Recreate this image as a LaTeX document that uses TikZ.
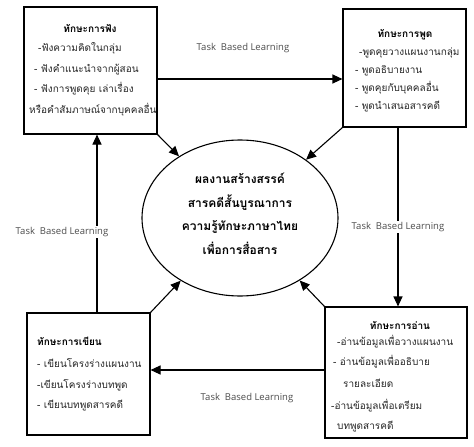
\documentclass[tikz,border=0pt]{standalone}
\usepackage{fontspec}
\newfontfamily\thai[Script=Thai]{Loma}
\newfontfamily\lat{Open Sans}
\usetikzlibrary{arrows.meta,shapes.geometric}
\begin{document}
\begin{tikzpicture}[x=1pt,y=-1pt,
 box/.style={draw, line width=1.1pt, inner sep=0pt, rectangle},
 arr/.style={line width=1.1pt, -{Triangle[length=10pt,width=9pt]}},
 th/.style={font=\thai\fontsize{10}{12}\selectfont, text=black!85, inner sep=0pt},
 thb/.style={font=\thai\bfseries\fontsize{10}{12}\selectfont, text=black, inner sep=0pt},
 tbl/.style={font=\lat\fontsize{9.5}{11}\selectfont, text=black!70, fill=white, inner sep=1.5pt}]
\useasboundingbox (0,0) rectangle (474,447);
% boxes
\node[box, minimum width=133pt, minimum height=127pt] (tl) at (90.5,70.5) {};
\node[box, minimum width=123pt, minimum height=118pt] (tr) at (404.5,68) {};
\node[box, minimum width=123pt, minimum height=122pt] (bl) at (88.5,374) {};
\node[box, minimum width=142pt, minimum height=131pt] (br) at (396,372.5) {};
\node[draw, ellipse, line width=1.1pt, minimum width=196pt, minimum height=156pt] (ell) at (240,218) {};
% connectors
\draw[arr] ([yshift=-8.5pt]tl.east) -- ([yshift=-8.5pt]tl.east -| tr.west);
\draw[arr] ([xshift=-6.5pt]tr.south) -- ([xshift=-6.5pt]tr.south |- br.north);
\draw[arr] ([yshift=2.5pt]br.west) -- ([yshift=2.5pt]br.west -| bl.east);
\draw[arr] ([xshift=8.5pt]bl.north) -- ([xshift=8.5pt]bl.north |- tl.south);
\draw[arr] (tl.south east) -- (ell);
\draw[arr] (tr.south west) -- (ell);
\draw[arr] (bl.north east) -- (ell);
\draw[arr] (br.north west) -- (ell);
% labels
\node[tbl] (lt) at (243,48) {Task\ \ Based Learning};
\node[tbl] (lr) at (398,227) {Task\ \ Based Learning};
\node[tbl] (lb) at (247,398) {Task\ \ Based Learning};
\node[tbl] (ll) at (62,232) {Task\ \ Based Learning};
% ellipse text
\node[font=\thai\bfseries\fontsize{12}{23.5}\selectfont, align=center, inner sep=0pt] (ellT) at (240,214)
 {ผลงานสร้างสรรค์\\สารคดีสั้นบูรณาการ\\ความรู้ทักษะภาษาไทย\\เพื่อการสื่อสาร};
% top-left box
\node[thb] (tlT) at (90,28) {ทักษะการฟัง};
\node[th, anchor=mid west] (tl1) at (38,49) {-ฟังความคิดในกลุ่ม};
\node[th, anchor=mid west] (tl2) at (34,70) {- ฟังคำแนะนำจากผู้สอน};
\node[th, anchor=mid west] (tl3) at (34,90) {- ฟังการพูดคุย เล่าเรื่อง};
\node[th, anchor=mid west] (tl4) at (29,111) {หรือคำสัมภาษณ์จากบุคคลอื่น};
% top-right box
\node[thb] (trT) at (405,35) {ทักษะการพูด};
\node[th, anchor=mid west] (tr1) at (359,53) {-พูดคุยวางแผนงานกลุ่ม};
\node[th, anchor=mid west] (tr2) at (355,71) {- พูดอธิบายงาน};
\node[th, anchor=mid west] (tr3) at (355,89) {- พูดคุยกับบุคคลอื่น};
\node[th, anchor=mid west] (tr4) at (355,107) {- พูดนำเสนอสารคดี};
% bottom-left box
\node[thb, anchor=mid west] (blT) at (37,343) {ทักษะการเขียน};
\node[th, anchor=mid west] (bl1) at (37,365) {- เขียนโครงร่างแผนงาน};
\node[th, anchor=mid west] (bl2) at (37,386) {-เขียนโครงร่างบทพูด};
\node[th, anchor=mid west] (bl3) at (37,406) {- เขียนบทพูดสารคดี};
% bottom-right box
\node[thb] (brT) at (400,325) {ทักษะการอ่าน};
\node[th, anchor=mid west] (br1) at (337,343) {-อ่านข้อมูลเพื่อวางแผนงาน};
\node[th, anchor=mid west] (br2) at (333,363) {- อ่านข้อมูลเพื่ออธิบาย};
\node[th, anchor=mid west] (br3) at (343,385) {รายละเอียด};
\node[th, anchor=mid west] (br4) at (331,407) {-อ่านข้อมูลเพื่อเตรียม};
\node[th, anchor=mid west] (br5) at (337,427) {บทพูดสารคดี};
\end{tikzpicture}
\end{document}
